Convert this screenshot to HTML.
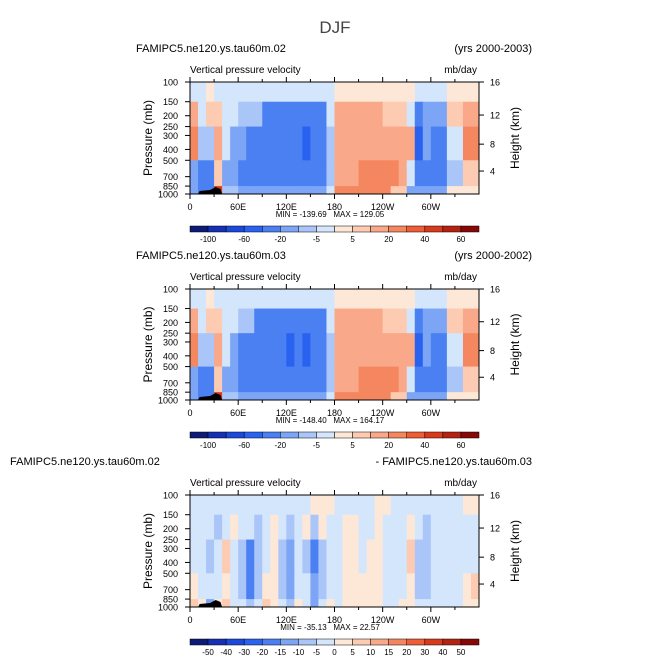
<!DOCTYPE html>
<html><head><meta charset="utf-8"><style>
body{margin:0;background:#fff}
svg{display:block;font-family:"Liberation Sans",sans-serif}
</style></head><body>
<svg id="fig" width="669" height="668" viewBox="0 0 669 668" xmlns="http://www.w3.org/2000/svg">
<text x="335" y="33" text-anchor="middle" font-size="17" fill="#444">DJF</text>
</svg>
<script>
const colors=["#0c1a78","#1630b4","#1c48dc","#2a62f0","#4a80f2","#7ca6f5","#aac6f8","#d4e6fb","#fde8d8","#fccbb2","#f9a98a","#f58760","#ef5e36","#d83a1c","#b62212","#880808"];
const levels12=[-100,-80,-60,-40,-20,-10,-5,0,5,10,20,30,40,50,60];
const levelsDiff=[-50,-40,-30,-20,-15,-10,-5,0,5,10,15,20,30,40,50];
const cbLabels12=["-100","","-60","","-20","","-5","","5","","20","","40","","60"];
const cbLabelsDiff=["-50","-40","-30","-20","-15","-10","-5","0","5","10","15","20","30","40","50"];
const pressureEdges=[100,150,250,500,850,1000];
const pTicks=[100,150,200,250,300,400,500,700,850,1000];
const hTicks=[16,12,8,4];
const hFrac=[0,0.295,0.555,0.795];
const lonTicks=[0,60,120,180,240,300];
const lonLabels=["0","60E","120E","180","120W","60W"];
const p1=[
[-3,-3,3,-3,-3,-3,-3,-3,-3,-3,-3,-3,-3,-3,-3,-3,-3,-3,3,3,3,3,3,3,3,3,3,3,-3,-3,-3,-3,3,3,3,3],
[15,-3,5,5,-3,-3,-10,-10,-10,-30,-30,-30,-30,-30,-30,-30,-30,-5,10,10,10,10,10,10,5,5,5,-5,-30,-15,-15,-15,5,5,10,10],
[25,-10,-10,15,-5,-20,-20,-40,-40,-40,-40,-40,-40,-40,-60,-40,-40,-10,15,15,15,15,15,15,15,15,10,10,-60,-20,-30,-30,-5,-5,25,25],
[-15,-30,-40,5,-20,-20,-30,-30,-30,-30,-30,-30,-30,-30,-30,-30,-30,-10,15,15,15,25,25,25,25,25,10,-5,-40,-30,-30,-30,-10,-10,5,5],
[-20,-40,-40,40,-10,-10,-20,-20,-20,-20,-20,-20,-20,-20,-20,-20,-20,-5,25,25,25,25,25,25,25,5,5,-15,-15,-15,-15,-15,3,3,3,3]];
const p2=[
[-3,-3,3,-3,-3,-3,-3,-3,-3,-3,-3,-3,-3,-3,-3,-3,-3,-3,3,3,3,3,3,3,3,3,3,3,-3,-3,-3,-3,3,3,3,3],
[15,-3,5,5,-3,-3,-10,-10,-30,-30,-30,-30,-30,-30,-30,-30,-30,-5,10,10,10,10,10,10,5,5,5,-5,-30,-15,-15,-15,5,5,10,10],
[25,-10,-10,15,-5,-20,-30,-40,-40,-40,-40,-40,-60,-40,-60,-40,-40,-10,15,15,15,15,15,15,15,15,10,10,-60,-20,-30,-30,-5,-5,25,25],
[-15,-30,-40,5,-20,-20,-30,-30,-30,-40,-30,-30,-40,-30,-30,-40,-30,-10,15,15,15,25,25,25,25,25,10,-5,-40,-30,-30,-30,-10,-10,5,5],
[-20,-40,-40,40,-10,-10,-20,-20,-20,-20,-20,-20,-20,-20,-20,-20,-20,-5,25,25,25,25,25,25,25,5,5,-15,-15,-15,-15,-15,3,3,3,3]];
const p3=[
[-3,-3,-3,-3,-3,-3,-3,-3,-3,-3,-3,-3,-3,-3,-3,3,3,3,-3,-3,-3,-3,-3,3,3,-3,-3,-3,-3,-3,-3,-3,-3,-3,3,3],
[-3,-3,-3,-8,-3,3,-3,-3,-8,-3,3,-3,-8,-3,3,-8,3,-3,-3,3,3,-3,-3,3,-3,-3,-3,3,-3,-8,-3,-3,-3,-3,-3,-3],
[-3,-3,-8,-3,8,-3,-8,-20,-8,-3,3,-8,-15,-3,-8,-20,-8,-3,-3,3,3,-3,3,3,-3,-3,-3,8,-8,-8,-3,-3,-3,-3,-3,-3],
[3,-3,-3,-3,3,-3,-8,-20,-8,3,3,-8,-15,-3,-3,-15,-8,-3,-3,3,3,3,3,3,-3,-3,-3,3,-8,-8,-3,-3,-3,-3,3,8],
[8,3,-15,3,8,-3,-3,-8,-3,8,3,-3,-8,3,-3,-15,-3,3,-3,3,3,3,3,3,-3,-3,3,3,-3,-3,-3,-3,-3,-3,3,3]];

const svg=document.getElementById('fig');
const NS="http://www.w3.org/2000/svg";
function mk(tag,attrs,parent){const e=document.createElementNS(NS,tag);for(const k in attrs)e.setAttribute(k,attrs[k]);(parent||svg).appendChild(e);return e;}
function txt(x,y,s,size,anchor,parent){const t=mk('text',{x:x,y:y,'font-size':size,'text-anchor':anchor||'start',fill:'#000'},parent);t.textContent=s;return t;}
function cls(v,lv){let i=0;while(i<lv.length&&v>=lv[i])i++;return i;}

function panel(cfg){
  const g=mk('g',{});
  
  
  const X0=190,X1=479,T=cfg.top,B=cfg.top+cfg.h;
  const xs=lon=>X0+(X1-X0)*lon/360;
  const ys=p=>T+(B-T)*Math.log10(p/100);
  const ncol=cfg.data[0].length;
  for(let b=0;b<cfg.data.length;b++){
    for(let c=0;c<ncol;c++){
      const r=mk('rect',{x:xs(c*360/ncol),y:ys(pressureEdges[b]),width:xs((c+1)*360/ncol)-xs(c*360/ncol)+0.5,height:ys(pressureEdges[b+1])-ys(pressureEdges[b])+0.5,fill:colors[cls(cfg.data[b][c],cfg.levels)]},g);
      
      
    }
  }
  const topo=mk('path',{d:`M${xs(10)} ${B} L${xs(12)} ${B-3} L${xs(25)} ${B-4} L${xs(32)} ${B-7} L${xs(38)} ${B-5} L${xs(40)} ${B} Z`,fill:'#000'},g);
  
  
  mk('rect',{x:X0,y:T,width:X1-X0,height:B-T,fill:'none',stroke:'#000','stroke-width':1},g);
  for(let i=0;i<lonTicks.length;i++){
    const x=xs(lonTicks[i]);
    mk('line',{x1:x,y1:B,x2:x,y2:B+5,stroke:'#000'},g);
    mk('line',{x1:x,y1:T,x2:x,y2:T-5,stroke:'#000'},g);
    const t=txt(x,B+16,lonLabels[i],9,'middle',g);
    
    
  }
  for(let l=30;l<360;l+=60){const x=xs(l);mk('line',{x1:x,y1:B,x2:x,y2:B+3,stroke:'#000'},g);mk('line',{x1:x,y1:T,x2:x,y2:T-3,stroke:'#000'},g);}
  for(const p of pTicks){
    const y=ys(p);
    mk('line',{x1:X0,y1:y,x2:X0-5,y2:y,stroke:'#000'},g);
    const t=txt(178,y+3.5,String(p),9,'end',g);
    
    
  }
  for(let i=0;i<hTicks.length;i++){
    const y=T+(B-T)*hFrac[i];
    mk('line',{x1:X1,y1:y,x2:X1+5,y2:y,stroke:'#000'},g);
    const t=txt(490,y+3.5,String(hTicks[i]),9,'start',g);
    
    
  }
  const yl=txt(0,0,'Pressure (mb)',12,'middle',g);
  yl.setAttribute('transform',`translate(152,${(T+B)/2}) rotate(-90)`);
  
  
  const hl=txt(0,0,'Height (km)',12,'middle',g);
  hl.setAttribute('transform',`translate(519,${(T+B)/2}) rotate(-90)`);
  
  
  const t1=txt(cfg.titleX,cfg.top-30,cfg.title,11,'start',g);
  
  
  const t2=txt(532,cfg.top-30,cfg.right,11,'end',g);
  
  
  const t3=txt(190,T-9,'Vertical pressure velocity',10,'start',g);
  
  
  const t4=txt(477,T-9,'mb/day',10,'end',g);
  
  
  const mm=txt(330,B+23,cfg.minmax,8,'middle',g);
  mm.setAttribute('style','white-space:pre');
  
  
  const cy=B+32,cw=(X1-X0)/16;
  for(let i=0;i<16;i++){
    const r=mk('rect',{x:X0+i*cw,y:cy,width:cw,height:6,fill:colors[i],stroke:'#000','stroke-width':0.5},g);
    
    
  }
  for(let i=0;i<15;i++){
    if(!cfg.cb[i])continue;
    const t=txt(X0+(i+1)*cw,cy+16,cfg.cb[i],8,'middle',g);
    
    
  }
}
panel({name:'panel-02',top:82,h:112,data:p1,levels:levels12,cb:cbLabels12,title:'FAMIPC5.ne120.ys.tau60m.02',titleX:136,right:'(yrs 2000-2003)',minmax:'MIN = -139.69   MAX = 129.05'});
panel({name:'panel-03',top:289,h:111,data:p2,levels:levels12,cb:cbLabels12,title:'FAMIPC5.ne120.ys.tau60m.03',titleX:136,right:'(yrs 2000-2002)',minmax:'MIN = -148.40   MAX = 164.17'});
panel({name:'panel-diff',top:495,h:112,data:p3,levels:levelsDiff,cb:cbLabelsDiff,title:'FAMIPC5.ne120.ys.tau60m.02',titleX:10,right:'- FAMIPC5.ne120.ys.tau60m.03',minmax:'MIN = -35.13   MAX = 22.57'});
</script>
</body></html>
